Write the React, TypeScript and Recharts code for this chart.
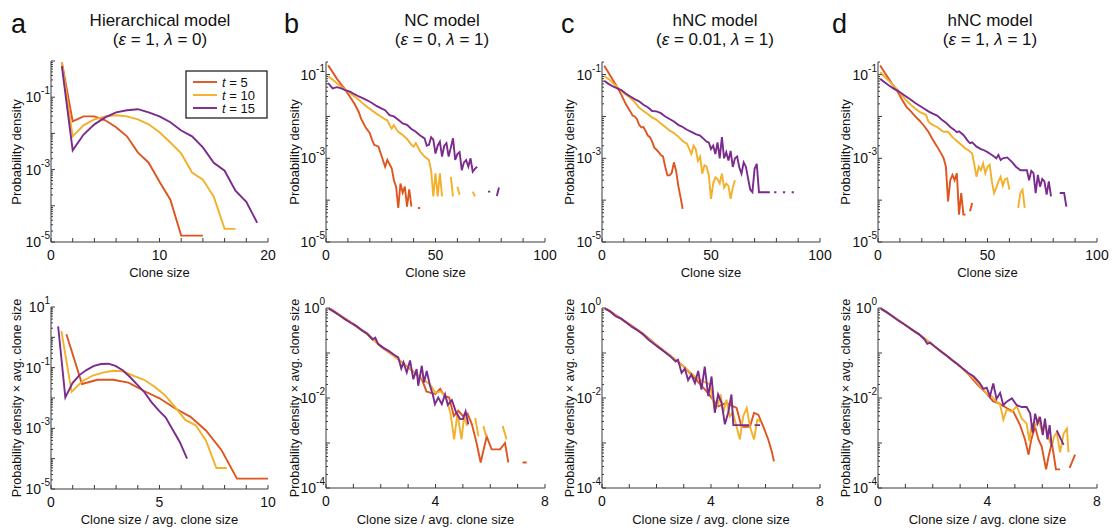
import React from 'react';
import { LineChart, Line, XAxis, YAxis } from 'recharts';

const FONT = '"Liberation Sans", Arial, Helvetica, sans-serif';
const AXIS = '#3a3a3a';
const C5 = '#de5520';
const C10 = '#f3b02a';
const C15 = '#7a2b8d';

// ---------------- labels ----------------
const panelLetters = ['a', 'b', 'c', 'd'];
const modelNames = ['Hierarchical model', 'NC model', 'hNC model', 'hNC model'];
const epsValues = ['1', '0', '0.01', '1'];
const lambdaValues = ['0', '1', '1', '1'];
const legendTimes = ['5', '10', '15'];
const topXLabel = 'Clone size';
const bottomXLabel = 'Clone size / avg. clone size';
const topYLabel = 'Probability density';
const bottomYLabel = 'Probability density \u00d7 avg. clone size';

// ---------------- panel a (hierarchical) ----------------
const hierSize5 = [1, 2, 3, 4, 5, 6, 7, 8, 9, 10, 11, 12, 13, 14];
const hierDens5 = [0.93, 0.0215, 0.0295, 0.0295, 0.023, 0.0148, 0.0083, 0.003, 0.00155, 0.00046, 0.000147, 1.5e-5, 1.5e-5, 1.5e-5];
const hierSize10 = [1, 2, 3, 4, 5, 6, 7, 8, 9, 10, 11, 12, 13, 14, 15, 16, 17];
const hierDens10 = [0.93, 0.0083, 0.0167, 0.0245, 0.0295, 0.0316, 0.0295, 0.0245, 0.0178, 0.0107, 0.0056, 0.0028, 0.00083, 0.00053, 0.000178, 2.3e-5, 2.3e-5];
const hierSize15 = [1, 2, 3, 4, 5, 6, 7, 8, 9, 10, 11, 12, 13, 14, 15, 16, 17, 18, 19];
const hierDens15 = [0.72, 0.0034, 0.0093, 0.0178, 0.0276, 0.038, 0.0436, 0.0466, 0.038, 0.0295, 0.0204, 0.012, 0.0083, 0.0041, 0.00155, 0.00093, 0.00026, 0.000129, 3.4e-5];

const hierRatio5 = [0.71, 1.43, 2.14, 2.86, 3.57, 4.29, 5.0, 5.71, 6.43, 7.14, 7.86, 8.57, 9.29, 10.0];
const hierScaled5 = [1.26, 0.029, 0.04, 0.04, 0.032, 0.017, 0.0098, 0.0046, 0.0024, 0.00085, 0.00019, 2.2e-5, 2.2e-5, 2.2e-5];
const hierRatio10 = [0.48, 0.95, 1.43, 1.9, 2.38, 2.86, 3.33, 3.81, 4.29, 4.76, 5.24, 5.71, 6.19, 6.67, 7.14, 7.62, 8.1];
const hierScaled10 = [1.6, 0.016, 0.035, 0.054, 0.069, 0.079, 0.076, 0.054, 0.04, 0.024, 0.0126, 0.0051, 0.0019, 0.00126, 0.0004, 4.9e-5, 4.9e-5];
const hierRatio15 = [0.33, 0.66, 0.99, 1.32, 1.65, 1.98, 2.31, 2.64, 2.97, 3.3, 3.63, 3.96, 4.29, 4.62, 4.95, 5.28, 5.61, 5.94, 6.27];
const hierScaled15 = [2.3, 0.0105, 0.031, 0.058, 0.085, 0.115, 0.132, 0.135, 0.115, 0.082, 0.05, 0.028, 0.016, 0.0075, 0.004, 0.0023, 0.0009, 0.00035, 0.0001];

// ---------------- panel b (NC) ----------------
const ncSize5 = [1, 3, 5, 7, 9, 11, 13, 15, 16, 18, 20, 21, 22, 24, 25, 27, 28, 30, 31, 32, 33, 34, 35, 36, 37, 38, 39, 40, 42, 43];
const ncDens5 = [0.166, 0.115, 0.079, 0.058, 0.042, 0.029, 0.02, 0.0126, 0.0089, 0.0056, 0.004, 0.0028, 0.0021, 0.0019, 0.0013, 0.00063, 0.00091, 0.00058, 0.0003, 0.00021, 6.5e-5, 0.00025, 0.00015, 0.00021, 7e-5, 0.00018, 7e-5, null, 6.5e-5, 6.5e-5];
const ncSize10 = [1, 3, 5, 7, 9, 11, 13, 15, 17, 19, 21, 23, 25, 27, 28, 29, 30, 31, 32, 33, 35, 37, 39, 40, 41, 43, 45, 47, 48, 49, 50, 51, 52, 53, 54, 57, 58, 59, 60, 61, 62, 67, 68];
const ncDens10 = [0.091, 0.076, 0.062, 0.051, 0.043, 0.036, 0.03, 0.025, 0.02, 0.0166, 0.0138, 0.0117, 0.01, 0.0085, 0.0081, 0.0063, 0.0051, 0.0062, 0.005, 0.0043, 0.0036, 0.0029, 0.0021, 0.0019, 0.0023, 0.00145, 0.0011, 0.00091, 0.00052, 0.000123, 0.00044, 0.000123, 0.00044, 0.000123, null, 0.00036, 0.000123, null, 0.00021, 0.000135, null, 0.00016, 0.000123];
const ncSize15 = [1, 3, 5, 7, 9, 11, 13, 15, 17, 19, 21, 23, 25, 27, 29, 31, 33, 35, 37, 39, 41, 43, 45, 46, 47, 48, 49, 50, 51, 52, 53, 54, 55, 56, 57, 58, 59, 60, 61, 62, 63, 64, 65, 66, 67, 68, 69, 70, 74, 75, 76, 78, 79];
const ncDens15 = [0.063, 0.047, 0.05, 0.047, 0.042, 0.039, 0.034, 0.03, 0.027, 0.024, 0.021, 0.0178, 0.0158, 0.0141, 0.0107, 0.01, 0.0083, 0.0068, 0.0063, 0.005, 0.0043, 0.0035, 0.003, 0.002, 0.0021, 0.0032, 0.0028, 0.0013, 0.002, 0.0025, 0.0011, 0.002, 0.0023, 0.0011, 0.0018, 0.003, 0.00091, 0.00126, 0.0014, 0.00052, 0.0008, 0.00091, 0.00063, 0.001, 0.00048, 0.00056, 0.00063, null, 0.00016, 0.00016, null, 0.000126, 0.0002];

const ncRatio5 = [0.17, 0.5, 1.0, 1.5, 2.0, 2.5, 3.0, 3.33, 3.5, 3.67, 3.83, 4.0, 4.17, 4.33, 4.5, 4.67, 4.83, 5.0, 5.17, 5.33, 5.5, 5.65, 5.87, 6.05, 6.2, 6.36, 6.54, 6.66, 6.8, 7.18, 7.33];
const ncScaled5 = [0.96, 0.7, 0.44, 0.27, 0.14, 0.085, 0.048, 0.032, 0.026, 0.014, 0.013, 0.0123, 0.016, 0.011, 0.0102, 0.004, 0.0052, 0.004, 0.0045, 0.0026, 0.001, 0.00037, 0.0014, 0.00072, 0.00072, 0.00072, 0.001, 0.00037, null, 0.00037, 0.00037];
const ncRatio10 = [0.1, 0.5, 1.0, 1.5, 2.0, 2.5, 3.0, 3.5, 3.8, 4.0, 4.2, 4.4, 4.55, 4.68, 4.8, 4.95, 5.05, 5.15, 5.3, 5.45, 5.57, 5.7, 5.75, 5.85, 6.0, 6.45, 6.6];
const ncScaled10 = [1.0, 0.68, 0.43, 0.26, 0.14, 0.085, 0.048, 0.027, 0.02, 0.013, 0.014, 0.0095, 0.0045, 0.0012, 0.0045, 0.0012, 0.004, 0.0024, null, 0.0036, 0.0014, null, 0.0024, 0.0014, null, 0.0024, 0.0012];
const ncRatio15 = [0.1, 0.3, 0.5, 0.7, 0.9, 1.1, 1.3, 1.5, 1.7, 1.8, 1.9, 2.1, 2.3, 2.5, 2.64, 2.75, 2.83, 2.95, 3.07, 3.19, 3.31, 3.37, 3.5, 3.58, 3.68, 3.8, 3.9, 3.98, 4.1, 4.23, 4.35, 4.45, 4.6, 4.75, 4.9, 5.0, 5.1, 5.2];
const ncScaled15 = [0.97, 0.82, 0.68, 0.56, 0.47, 0.4, 0.32, 0.27, 0.2, 0.22, 0.16, 0.13, 0.11, 0.09, 0.08, 0.045, 0.062, 0.037, 0.068, 0.026, 0.044, 0.0187, 0.052, 0.022, 0.04, 0.0187, 0.012, 0.0073, 0.0102, 0.0073, 0.012, 0.007, 0.009, 0.0048, 0.0034, 0.0034, 0.005, 0.0026];

// ---------------- panel c (hNC, eps = 0.01) ----------------
const hncSize5 = [1, 3, 5, 7, 9, 11, 13, 14, 15, 16, 17, 18, 19, 20, 21, 22, 23, 24, 25, 26, 27, 28, 29, 30, 31, 32, 33, 34, 35, 36, 37];
const hncDens5 = [0.162, 0.11, 0.074, 0.05, 0.032, 0.0195, 0.0132, 0.0105, 0.01, 0.0087, 0.0063, 0.0055, 0.0056, 0.0045, 0.0035, 0.0032, 0.0025, 0.0018, 0.0016, 0.0014, 0.0012, 0.0011, 0.00063, 0.00039, 0.00039, 0.00045, 0.0008, 0.0005, 0.00022, 0.00012, 6.2e-5];
const hncSize10 = [1, 3, 5, 7, 9, 11, 13, 15, 17, 19, 21, 23, 25, 27, 29, 31, 33, 35, 37, 39, 41, 42, 43, 44, 45, 46, 47, 48, 49, 50, 51, 52, 53, 54, 55, 56, 57, 58, 59, 60, 61];
const hncDens10 = [0.093, 0.079, 0.063, 0.05, 0.04, 0.033, 0.0275, 0.022, 0.0162, 0.0135, 0.0115, 0.0095, 0.0083, 0.0068, 0.0056, 0.0046, 0.004, 0.0033, 0.0026, 0.0022, 0.00126, 0.002, 0.00166, 0.00087, 0.0011, 0.00043, 0.00068, 0.00063, 0.00039, 0.000107, 0.00025, 0.00035, 0.00032, 0.00025, 0.00043, 0.0002, 0.00025, 0.00022, 0.000107, 0.0002, 0.0003];
const hncSize15 = [1, 3, 5, 7, 9, 11, 13, 15, 17, 19, 21, 23, 25, 27, 29, 31, 33, 35, 37, 39, 41, 43, 45, 47, 48, 49, 50, 51, 52, 53, 54, 55, 56, 57, 58, 59, 60, 61, 62, 63, 64, 65, 66, 67, 68, 69, 70, 71, 72, 73, 74, 75, 76, 77, 78, 79, 80, 81, 83, 84, 85, 87, 88];
const hncDens15 = [0.071, 0.06, 0.052, 0.047, 0.042, 0.035, 0.03, 0.026, 0.023, 0.019, 0.0166, 0.0135, 0.0132, 0.012, 0.01, 0.0087, 0.0076, 0.0063, 0.0056, 0.0048, 0.0043, 0.0038, 0.0035, 0.0028, 0.0025, 0.0024, 0.00166, 0.002, 0.00126, 0.0024, 0.001, 0.0032, 0.001, 0.0014, 0.00089, 0.0015, 0.00062, 0.001, 0.0011, 0.0006, 0.00043, 0.0008, 0.00063, 0.00033, 0.00018, 0.000155, 0.00056, 0.00074, 0.000155, 0.000155, 0.000155, 0.000155, 0.000155, 0.000155, null, 0.000155, 0.000155, null, 0.000155, 0.000155, null, 0.000155, 0.000155];

const hncRatio5 = [0.17, 0.5, 1.0, 1.5, 2.0, 2.5, 3.0, 3.35, 3.84, 4.26, 4.57, 4.75, 4.94, 5.12, 5.43, 5.58, 5.74, 5.92, 6.1, 6.23, 6.31];
const hncScaled5 = [0.96, 0.7, 0.44, 0.27, 0.15, 0.088, 0.05, 0.03, 0.014, 0.0065, 0.0078, 0.0068, 0.006, 0.0023, 0.0023, 0.0047, 0.0042, 0.0023, 0.0012, 0.00065, 0.00039];
const hncRatio10 = [0.1, 0.5, 1.0, 1.5, 2.0, 2.5, 3.0, 3.5, 3.96, 4.14, 4.26, 4.35, 4.45, 4.57, 4.69, 4.8, 4.94, 5.06, 5.18, 5.31, 5.43, 5.58, 5.7, 5.8];
const hncScaled10 = [1.0, 0.68, 0.43, 0.26, 0.15, 0.088, 0.05, 0.027, 0.02, 0.0055, 0.0075, 0.012, 0.0047, 0.0092, 0.0039, 0.0048, 0.0023, 0.0012, 0.0039, 0.006, 0.0023, 0.0012, 0.0033, 0.003];
const hncRatio15 = [0.1, 0.3, 0.5, 0.7, 0.9, 1.1, 1.3, 1.5, 1.7, 1.9, 2.1, 2.3, 2.5, 2.7, 2.79, 2.92, 3.04, 3.16, 3.28, 3.41, 3.53, 3.65, 3.77, 3.9, 4.02, 4.14, 4.26, 4.39, 4.51, 4.63, 4.75, 4.82, 4.95, 5.1, 5.25, 5.4, 5.5, 5.6, 5.8];
const hncScaled15 = [0.97, 0.84, 0.66, 0.58, 0.47, 0.38, 0.32, 0.26, 0.2, 0.16, 0.13, 0.105, 0.085, 0.065, 0.071, 0.036, 0.045, 0.025, 0.033, 0.0215, 0.04, 0.0154, 0.05, 0.011, 0.03, 0.0047, 0.012, 0.0077, 0.0026, 0.0047, 0.012, 0.0025, 0.0025, 0.0025, 0.0025, 0.0025, null, 0.0025, 0.0025];

// ---------------- panel d (hNC, eps = 1) ----------------
const hnc1Size5 = [1, 3, 5, 7, 9, 11, 13, 15, 17, 19, 21, 23, 25, 27, 29, 30, 31, 32, 33, 34, 35, 36, 37, 38, 39, 40, 41, 42, 43];
const hnc1Dens5 = [0.166, 0.112, 0.078, 0.054, 0.039, 0.025, 0.017, 0.0132, 0.01, 0.0079, 0.006, 0.0043, 0.0028, 0.0019, 0.00126, 0.001, 0.00063, 9.3e-5, 0.0003, 0.0004, 0.0003, 0.00044, 4.5e-5, 0.000148, 4.5e-5, 4.5e-5, null, 5.4e-5, 8.5e-5];
const hnc1Size10 = [1, 3, 5, 7, 9, 11, 13, 15, 17, 19, 21, 22, 23, 24, 25, 27, 29, 30, 32, 34, 36, 38, 40, 41, 43, 44, 45, 46, 47, 48, 49, 50, 51, 52, 53, 54, 55, 56, 57, 58, 59, 60, 61, 64, 65, 66, 67];
const hnc1Dens10 = [0.115, 0.089, 0.071, 0.055, 0.043, 0.032, 0.024, 0.019, 0.0155, 0.0129, 0.0115, 0.0107, 0.0076, 0.0068, 0.0063, 0.0056, 0.0046, 0.0043, 0.0043, 0.0032, 0.0026, 0.0021, 0.0017, 0.0016, 0.0013, 0.0007, 0.00036, 0.00063, 0.00052, 0.00076, 0.00044, 0.00063, 0.0007, 0.00028, 0.000148, 0.0002, 0.00028, 0.00036, 0.00022, 0.00032, 0.00033, 0.000178, null, 6.5e-5, 0.000148, 0.000178, 6.5e-5];
const hnc1Size15 = [1, 3, 5, 7, 9, 11, 13, 15, 17, 19, 21, 23, 25, 27, 29, 31, 33, 35, 36, 37, 39, 41, 42, 43, 45, 47, 48, 50, 51, 53, 54, 55, 56, 57, 59, 61, 63, 65, 66, 68, 69, 70, 71, 72, 73, 74, 75, 76, 77, 78, 79, 80, 83, 84, 85, 86];
const hnc1Dens15 = [0.079, 0.066, 0.055, 0.047, 0.041, 0.035, 0.0295, 0.025, 0.021, 0.018, 0.0155, 0.0132, 0.0117, 0.0105, 0.0085, 0.0071, 0.0056, 0.0047, 0.0042, 0.0044, 0.0036, 0.0026, 0.0023, 0.0024, 0.0019, 0.00166, 0.0016, 0.0014, 0.0013, 0.0011, 0.001, 0.0012, 0.00091, 0.001, 0.00105, 0.00083, 0.00063, 0.00052, 0.00052, 0.00052, 0.0003, 0.0005, 0.00044, 0.000148, 0.0004, 0.00021, 0.00032, 0.00028, 0.000135, 0.00028, 0.000123, null, 0.000148, 0.000148, 0.000148, 7e-5];

const hnc1Ratio5 = [0.12, 0.5, 1.0, 1.5, 2.0, 2.5, 3.0, 3.3, 3.6, 3.97, 4.2, 4.46, 4.7, 4.95, 5.19, 5.37, 5.5, 5.6, 5.74, 5.86, 5.98, 6.14, 6.23, 6.35, 6.43, 6.5, 6.65, 6.8, 7.0, 7.2];
const hnc1Scaled5 = [0.95, 0.68, 0.42, 0.26, 0.15, 0.088, 0.05, 0.034, 0.021, 0.0125, 0.0085, 0.0074, 0.006, 0.0049, 0.0025, 0.0012, 0.00055, 0.0012, 0.0023, 0.0012, 0.00083, 0.00026, 0.0005, 0.001, 0.0005, 0.00026, 0.00026, null, 0.00028, 0.00055];
const hnc1Ratio10 = [0.1, 0.5, 1.0, 1.5, 2.0, 2.5, 3.0, 3.5, 3.97, 4.15, 4.33, 4.45, 4.58, 4.7, 4.89, 5.07, 5.25, 5.43, 5.53, 5.62, 5.74, 5.86, 5.98, 6.1, 6.23, 6.35, 6.43, 6.53, 6.65, 6.78, 6.9, 6.96];
const hnc1Scaled10 = [1.0, 0.68, 0.42, 0.26, 0.15, 0.088, 0.05, 0.027, 0.0126, 0.011, 0.0083, 0.0075, 0.0033, 0.0055, 0.005, 0.0066, 0.0035, 0.0027, 0.0011, 0.0027, 0.0023, 0.0035, 0.0019, 0.0027, 0.0013, 0.00083, 0.0014, 0.0017, 0.00062, 0.0016, 0.0021, 0.00062];
const hnc1Ratio15 = [0.1, 0.3, 0.5, 0.7, 0.9, 1.1, 1.3, 1.5, 1.7, 1.8, 1.9, 2.1, 2.3, 2.5, 2.7, 2.9, 3.1, 3.3, 3.5, 3.7, 3.85, 3.97, 4.09, 4.21, 4.33, 4.46, 4.58, 4.7, 4.89, 5.07, 5.25, 5.43, 5.56, 5.65, 5.74, 5.83, 5.92, 6.02, 6.1, 6.19, 6.27, 6.35, 6.45, 6.53, 6.78];
const hnc1Scaled15 = [0.97, 0.82, 0.67, 0.55, 0.46, 0.38, 0.31, 0.26, 0.2, 0.16, 0.17, 0.135, 0.108, 0.088, 0.07, 0.057, 0.045, 0.036, 0.03, 0.022, 0.016, 0.017, 0.011, 0.021, 0.0095, 0.013, 0.0069, 0.0083, 0.0098, 0.0069, 0.0063, 0.0063, 0.0045, 0.0017, 0.0045, 0.0027, 0.0038, 0.0015, 0.0035, 0.0012, 0.0025, 0.0008, null, 0.0019, 0.00091];

// ---------------- axes definitions ----------------
const topXTicksA = [0, 2, 4, 6, 8, 10, 12, 14, 16, 18, 20];
const topXLabelsA = [0, 10, 20];
const topXTicksB = [0, 10, 20, 30, 40, 50, 60, 70, 80, 90, 100];
const topXLabelsB = [0, 50, 100];
const botXTicksA = [0, 1, 2, 3, 4, 5, 6, 7, 8, 9, 10];
const botXLabelsA = [0, 5, 10];
const botXTicksB = [0, 1, 2, 3, 4, 5, 6, 7, 8];
const botXLabelsB = [0, 4, 8];
const topYExpLabels = [-1, -3, -5];
const botYExpLabelsA = [1, -1, -3, -5];
const botYExpLabelsB = [0, -2, -4];

// ---------------- helpers ----------------
type Pt = { x: number; y: number | null };
const pts = (xs: number[], ys: (number | null)[]): Pt[] =>
  xs.map((x, i) => ({ x, y: ys[i] === undefined ? null : ys[i] }));

const logTicks = (loExp: number, hiExp: number, max: number): number[] => {
  const out: number[] = [];
  for (let e = loExp; e <= hiExp; e++) {
    for (let m = 1; m <= 9; m++) {
      const v = Number((m * Math.pow(10, e)).toPrecision(6));
      if (v <= max * 1.0001) out.push(v);
    }
  }
  return out;
};

const XTick = (props: any) => {
  const { x, y, payload, labels } = props;
  const v = payload.value as number;
  return (
    <g>
      <line x1={x} x2={x} y1={y} y2={y - 4} stroke={AXIS} strokeWidth={1} />
      {labels.includes(v) && (
        <text x={x} y={y + 18} textAnchor="middle" fontSize={14} fill="#111" fontFamily={FONT}>
          {v}
        </text>
      )}
    </g>
  );
};

const YTick = (props: any) => {
  const { x, y, payload, labels } = props;
  const v = payload.value as number;
  const e = Math.log10(v);
  const re = Math.round(e);
  const major = Math.abs(e - re) < 1e-6;
  return (
    <g>
      <line x1={x} x2={x + (major ? 4 : 2)} y1={y} y2={y} stroke={AXIS} strokeWidth={1} />
      {major && labels.includes(re) && (
        <text x={x - 1} y={y + 5} textAnchor="end" fontSize={14} fill="#111" fontFamily={FONT}>
          10
          <tspan dy={-8} fontSize={10}>
            {re}
          </tspan>
        </text>
      )}
    </g>
  );
};

type Series = { data: Pt[]; color: string };
type PanelProps = {
  left: number;
  top: number;
  w: number;
  h: number;
  xDomain: [number, number];
  xTicks: number[];
  xLabels: number[];
  yDomain: [number, number];
  yTicks: number[];
  yLabels: number[];
  series: Series[];
};

function Panel(p: PanelProps) {
  const ML = 46;
  const MR = 14;
  const MT = 16;
  const MB = 26;
  return (
    <div style={{ position: 'absolute', left: p.left - ML, top: p.top - MT }}>
      <LineChart width={p.w + ML + MR} height={p.h + MT + MB} margin={{ top: MT, right: MR, bottom: 0, left: 0 }}>
        <XAxis
          type="number"
          dataKey="x"
          domain={p.xDomain}
          ticks={p.xTicks}
          interval={0}
          allowDataOverflow
          height={MB}
          tickSize={0}
          tickMargin={0}
          tickLine={false}
          axisLine={{ stroke: AXIS, strokeWidth: 1 }}
          tick={(tp: any) => <XTick {...tp} labels={p.xLabels} />}
        />
        <YAxis
          type="number"
          scale="log"
          domain={p.yDomain}
          ticks={p.yTicks}
          interval={0}
          allowDataOverflow
          width={ML}
          tickSize={0}
          tickMargin={0}
          tickLine={false}
          axisLine={{ stroke: AXIS, strokeWidth: 1 }}
          tick={(tp: any) => <YTick {...tp} labels={p.yLabels} />}
        />
        {p.series.map((s, i) => (
          <Line
            key={i}
            data={s.data}
            dataKey="y"
            type="linear"
            stroke={s.color}
            strokeWidth={1.9}
            dot={false}
            activeDot={false}
            connectNulls={false}
            isAnimationActive={false}
          />
        ))}
      </LineChart>
    </div>
  );
}

const plotLefts = [51, 326, 602, 878];
const plotWidths = [217, 219, 218, 219];
const titleCenters = [160, 442, 715, 990];
const letterXs = [11, 284, 561, 832];
const yLabelXs = [21, 299, 574, 850];

export default function App() {
  const topTicksA = logTicks(-5, 0, 1);
  const topTicksB = logTicks(-5, -1, 0.2);
  const botTicksA = logTicks(-5, 1, 10);
  const botTicksB = logTicks(-4, 0, 1);

  const topSeries: Series[][] = [
    [
      { data: pts(hierSize5, hierDens5), color: C5 },
      { data: pts(hierSize10, hierDens10), color: C10 },
      { data: pts(hierSize15, hierDens15), color: C15 },
    ],
    [
      { data: pts(ncSize5, ncDens5), color: C5 },
      { data: pts(ncSize10, ncDens10), color: C10 },
      { data: pts(ncSize15, ncDens15), color: C15 },
    ],
    [
      { data: pts(hncSize5, hncDens5), color: C5 },
      { data: pts(hncSize10, hncDens10), color: C10 },
      { data: pts(hncSize15, hncDens15), color: C15 },
    ],
    [
      { data: pts(hnc1Size5, hnc1Dens5), color: C5 },
      { data: pts(hnc1Size10, hnc1Dens10), color: C10 },
      { data: pts(hnc1Size15, hnc1Dens15), color: C15 },
    ],
  ];
  const botSeries: Series[][] = [
    [
      { data: pts(hierRatio5, hierScaled5), color: C5 },
      { data: pts(hierRatio10, hierScaled10), color: C10 },
      { data: pts(hierRatio15, hierScaled15), color: C15 },
    ],
    [
      { data: pts(ncRatio5, ncScaled5), color: C5 },
      { data: pts(ncRatio10, ncScaled10), color: C10 },
      { data: pts(ncRatio15, ncScaled15), color: C15 },
    ],
    [
      { data: pts(hncRatio5, hncScaled5), color: C5 },
      { data: pts(hncRatio10, hncScaled10), color: C10 },
      { data: pts(hncRatio15, hncScaled15), color: C15 },
    ],
    [
      { data: pts(hnc1Ratio5, hnc1Scaled5), color: C5 },
      { data: pts(hnc1Ratio10, hnc1Scaled10), color: C10 },
      { data: pts(hnc1Ratio15, hnc1Scaled15), color: C15 },
    ],
  ];
  const legendColors = [C5, C10, C15];

  return (
    <div
      style={{
        position: 'absolute',
        left: 0,
        top: 0,
        width: 1112,
        height: 530,
        background: '#fff',
        overflow: 'hidden',
        fontFamily: FONT,
      }}
    >
      {[0, 1, 2, 3].map((i) => (
        <Panel
          key={'t' + i}
          left={plotLefts[i]}
          top={i === 0 ? 61 : 62}
          w={plotWidths[i]}
          h={i === 0 ? 181 : 180}
          xDomain={i === 0 ? [0, 20] : [0, 100]}
          xTicks={i === 0 ? topXTicksA : topXTicksB}
          xLabels={i === 0 ? topXLabelsA : topXLabelsB}
          yDomain={i === 0 ? [1e-5, 1] : [1e-5, 0.2]}
          yTicks={i === 0 ? topTicksA : topTicksB}
          yLabels={topYExpLabels}
          series={topSeries[i]}
        />
      ))}
      {[0, 1, 2, 3].map((i) => (
        <Panel
          key={'b' + i}
          left={plotLefts[i]}
          top={i === 0 ? 307 : 308}
          w={plotWidths[i]}
          h={i === 0 ? 182 : 180}
          xDomain={i === 0 ? [0, 10] : [0, 8]}
          xTicks={i === 0 ? botXTicksA : botXTicksB}
          xLabels={i === 0 ? botXLabelsA : botXLabelsB}
          yDomain={i === 0 ? [1e-5, 10] : [1e-4, 1]}
          yTicks={i === 0 ? botTicksA : botTicksB}
          yLabels={i === 0 ? botYExpLabelsA : botYExpLabelsB}
          series={botSeries[i]}
        />
      ))}
      <svg
        width={1112}
        height={530}
        style={{ position: 'absolute', left: 0, top: 0, pointerEvents: 'none' }}
        fontFamily={FONT}
      >
        {[0, 1, 2, 3].map((i) => (
          <g key={'txt' + i}>
            <text x={letterXs[i]} y={33} fontSize={27} fill="#111">
              {panelLetters[i]}
            </text>
            <text x={titleCenters[i]} y={26} fontSize={17} textAnchor="middle" fill="#111">
              {modelNames[i]}
            </text>
            <text x={titleCenters[i]} y={45} fontSize={17} textAnchor="middle" fill="#111">
              (<tspan fontStyle="italic">ε</tspan> = {epsValues[i]}, <tspan fontStyle="italic">λ</tspan> = {lambdaValues[i]})
            </text>
            <text
              x={plotLefts[i] + plotWidths[i] / 2}
              y={277}
              fontSize={13}
              textAnchor="middle"
              fill="#111"
            >
              {topXLabel}
            </text>
            <text
              x={plotLefts[i] + plotWidths[i] / 2}
              y={524}
              fontSize={13}
              textAnchor="middle"
              fill="#111"
            >
              {bottomXLabel}
            </text>
            <text
              transform={`translate(${yLabelXs[i]},152) rotate(-90)`}
              fontSize={13}
              textAnchor="middle"
              fill="#111"
            >
              {topYLabel}
            </text>
            <text
              transform={`translate(${yLabelXs[i]},398) rotate(-90)`}
              fontSize={12.5}
              textAnchor="middle"
              fill="#111"
            >
              {bottomYLabel}
            </text>
          </g>
        ))}
        <rect x={186} y={71} width={81} height={47} fill="#fff" stroke="#111" strokeWidth={1.2} />
        {legendTimes.map((t, k) => (
          <g key={'lg' + k}>
            <line x1={193} x2={217} y1={82 + k * 13} y2={82 + k * 13} stroke={legendColors[k]} strokeWidth={1.9} />
            <text x={222} y={86.5 + k * 13} fontSize={13} fill="#111">
              <tspan fontStyle="italic">t</tspan> = {t}
            </text>
          </g>
        ))}
      </svg>
    </div>
  );
}
